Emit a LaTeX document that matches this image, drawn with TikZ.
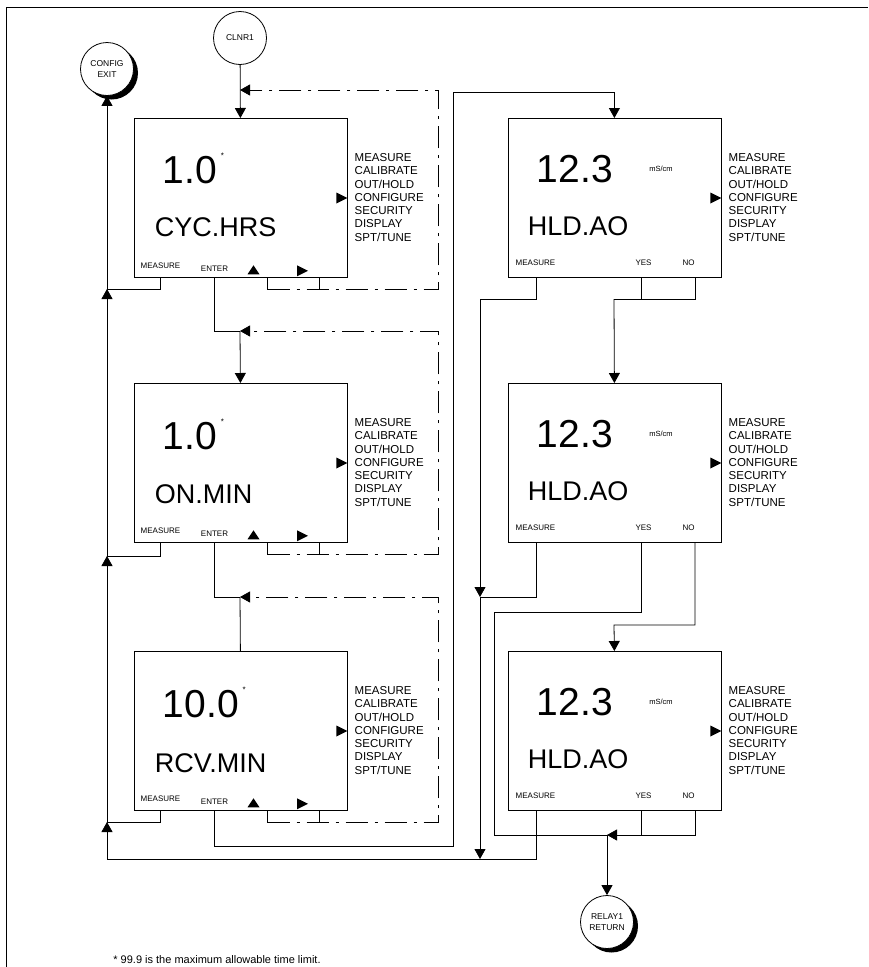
\documentclass[tikz,border=0pt]{standalone}
\usepackage{fontspec}
\setmainfont{Liberation Sans}
\usetikzlibrary{positioning,arrows.meta,calc,shadows}

\begin{document}
\begin{tikzpicture}[
    x=1pt, y=-1pt,
    line width=0.8pt,
    screen/.style={rectangle, draw, minimum width=213pt, minimum height=159pt, anchor=north west, inner sep=0pt},
    bigVal/.style={font=\fontsize{39}{39}\selectfont, inner sep=0pt, anchor=base west},
    tagName/.style={font=\fontsize{27}{27}\selectfont, inner sep=0pt, anchor=base west},
    menuList/.style={font=\fontsize{11.5}{13.3}\selectfont, align=left, inner sep=0pt, anchor=north west},
    keyLabel/.style={font=\fontsize{8}{8}\selectfont, inner sep=0pt},
    unitLabel/.style={font=\fontsize{7.5}{7.5}\selectfont, inner sep=0pt},
    starMark/.style={font=\fontsize{8}{8}\selectfont, inner sep=0pt, anchor=north west},
    plainCircle/.style={circle, draw, fill=white, minimum size=53pt, inner sep=0pt, align=center, font=\fontsize{8.5}{10.5}\selectfont},
    exitCircle/.style={plainCircle, drop shadow={shadow xshift=4.5pt, shadow yshift=-4pt, fill=black, opacity=1}},
    flow/.style={-{Triangle[length=10pt,width=11pt]}},
    loopLine/.style={dash pattern=on 22pt off 7pt on 3pt off 7pt},
    upKey/.pic={\fill (-6,4.5) -- (6,4.5) -- (0,-4.5) -- cycle;},
    rightKey/.pic={\fill (-5.5,-5.5) -- (-5.5,5.5) -- (5.5,0) -- cycle;}
]
    \useasboundingbox (0,0) rectangle (868,967);

    % frame
    \draw[line width=1pt] (6,967) -- (6,7) -- (868,7);

    % circles
    \node[plainCircle] (clnr) at (240,38) {CLNR1};
    \node[exitCircle] (config) at (107,69) {CONFIG\\EXIT};
    \node[exitCircle] (relay) at (607,922) {RELAY1\\RETURN};

    % left column screens
    \node[screen] (cyc) at (133.5,118) {};
    \node[screen] (onmin) at (133.5,383) {};
    \node[screen] (rcv) at (133.5,651) {};

    % right column screens
    \node[screen] (hold1) at (507.5,118) {};
    \node[screen] (hold2) at (507.5,383) {};
    \node[screen] (hold3) at (507.5,651) {};

    % display texts, left
    \node[bigVal] (cycVal) at ($(cyc.north west)+(29,65)$) {1.0};
    \node[tagName] at ($(cyc.north west)+(21,118)$) {CYC.HRS};
    \node[bigVal] (onminVal) at ($(onmin.north west)+(29,66)$) {1.0};
    \node[tagName] at ($(onmin.north west)+(21,120)$) {ON.MIN};
    \node[bigVal] (rcvVal) at ($(rcv.north west)+(29,66)$) {10.0};
    \node[tagName] at ($(rcv.north west)+(21,121)$) {RCV.MIN};
    \foreach \v in {cycVal,onminVal,rcvVal}
        \node[starMark] at ($(\v.north east)+(3,-3)$) {*};

    % display texts, right
    \foreach \b in {hold1,hold2,hold3}{
        \node[bigVal] at ($(\b.north west)+(29,64)$) {12.3};
        \node[tagName] at ($(\b.north west)+(20,117)$) {HLD.AO};
        \node[unitLabel] at ($(\b.north west)+(153.5,51)$) {mS/cm};
        \node[keyLabel] at ($(\b.south west)+(28,-15)$) {MEASURE};
        \node[keyLabel] at ($(\b.south west)+(136,-15)$) {YES};
        \node[keyLabel] at ($(\b.south west)+(181,-15)$) {NO};
        \coordinate (\b-meas) at ($(\b.south west)+(28.5,0)$);
        \coordinate (\b-yes) at ($(\b.south west)+(133.5,0)$);
        \coordinate (\b-no) at ($(\b.south west)+(187.5,0)$);
    }

    % keys and menus of every screen
    \foreach \b in {cyc,onmin,rcv}{
        \node[keyLabel] at ($(\b.south west)+(27,-12)$) {MEASURE};
        \node[keyLabel] at ($(\b.south west)+(81,-9)$) {ENTER};
        \pic at ($(\b.south west)+(120,-8)$) {upKey};
        \pic at ($(\b.south west)+(169,-7)$) {rightKey};
        \coordinate (\b-meas) at ($(\b.south west)+(27,0)$);
        \coordinate (\b-ent) at ($(\b.south west)+(81,0)$);
        \coordinate (\b-up) at ($(\b.south west)+(134,0)$);
        \coordinate (\b-rt) at ($(\b.south west)+(186,0)$);
    }
    \foreach \b in {cyc,onmin,rcv,hold1,hold2,hold3}{
        \node[menuList] at ($(\b.north east)+(7,35)$)
            {MEASURE\\CALIBRATE\\OUT/HOLD\\CONFIGURE\\SECURITY\\DISPLAY\\SPT/TUNE};
        \pic at ($(\b.north east)+(-5.5,80)$) {rightKey};
    }

    % junctions
    \coordinate (cycJoin) at (240,90);
    \coordinate (onminJoin) at (240,331);
    \coordinate (rcvJoin) at (240,597);
    \coordinate (busA) at (107,289);
    \coordinate (busB) at (107,556);
    \coordinate (busC) at (107,822);
    \coordinate (busEnd) at (107,859);
    \coordinate (rbusA) at (480,299);
    \coordinate (rbusB) at (480,597);
    \coordinate (rbusEnd) at (480,859);
    \coordinate (hold2Join) at (614,299);
    \coordinate (relayJoin) at (607,835);

    % entry
    \draw[flow] (clnr) -- (cyc.north);

    % up/right keys loop back to the same screen
    \foreach \b/\j in {cyc/cycJoin,onmin/onminJoin,rcv/rcvJoin}{
        \draw (\b-up) -- ++(0,12) coordinate (\b-back);
        \draw (\b-rt) -- ++(0,12);
        \draw[loopLine, flow] (\b-back) -| (438,0 |- \j) -- (\j);
    }

    % ENTER
    \draw (cyc-ent) |- (onminJoin);
    \draw[flow] (onminJoin) -- (onmin.north);
    \draw (onmin-ent) |- (rcvJoin);
    \draw (rcv.north) -- (rcvJoin);
    \draw[flow] (rcv-ent) |- (453,846) -- (453,92) -| (hold1.north);

    % MEASURE, left bus to CONFIG EXIT
    \draw (cyc-meas) |- (busA);
    \draw (onmin-meas) |- (busB);
    \draw (rcv-meas) |- (busC);
    \draw[flow] (hold3-meas) |- (busEnd) -- (busC);
    \draw[flow] (busC) -- (busB);
    \draw[flow] (busB) -- (busA);
    \draw[flow] (busA) -- (config);

    % MEASURE, right bus
    \draw (hold1-meas) |- (rbusA);
    \draw[flow] (rbusA) -- (rbusB);
    \draw[flow] (rbusB) -- (rbusEnd);
    \draw (hold2-meas) |- (rbusB);

    % YES / NO
    \draw (hold1-yes) -- ++(0,22);
    \draw (hold1-no) |- (hold2Join);
    \draw[flow] (hold2Join) -- (hold2.north);
    \draw (hold2-yes) |- (494,612) -- (494,835) -- (relayJoin);
    \draw[flow] (hold2-no) |- (614,625) -- (hold3.north);
    \draw (hold3-yes) -- ++(0,25);
    \draw[flow] (hold3-no) |- (relayJoin);
    \draw[flow] (relayJoin) -- (relay);

    % footnote
    \node[anchor=base west, inner sep=0pt, font=\fontsize{11}{11}\selectfont] (note) at (113,963)
        {* 99.9 is the maximum allowable time limit.};
\end{tikzpicture}
\end{document}
